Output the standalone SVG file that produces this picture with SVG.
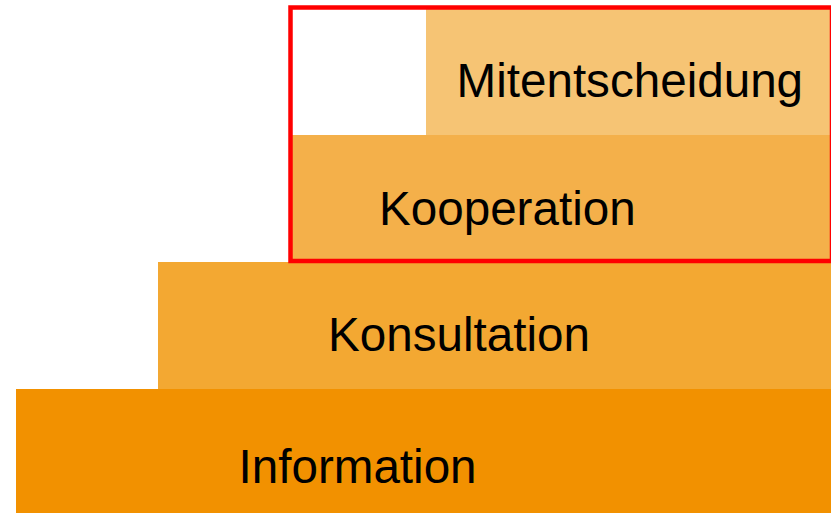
<svg xmlns="http://www.w3.org/2000/svg" width="831" height="513" viewBox="0 0 831 513">
<style>
.lbl{font-family:"Liberation Sans",Arial,sans-serif;font-size:47.6px;fill:#000}
</style>
<rect width="831" height="513" fill="#fff"/>
<g id="information"><rect x="16" y="389" width="815" height="124" fill="#F29100"/><text class="lbl" x="238.5" y="483">Information</text></g>
<g id="konsultation"><rect x="158" y="262" width="673" height="127" fill="#F3A832"/><text class="lbl" x="328" y="351">Konsultation</text></g>
<g id="kooperation"><rect x="290" y="135" width="541" height="127" fill="#F4B04A"/><text class="lbl" x="379" y="224.5">Kooperation</text></g>
<g id="mitentscheidung"><rect x="426" y="9" width="405" height="126" fill="#F6C474"/><text class="lbl" x="456.5" y="96.5">Mitentscheidung</text></g>
<g id="highlight"><rect x="290.5" y="7.5" width="541.5" height="253.5" fill="none" stroke="#FF0000" stroke-width="4.5"/></g>
</svg>
